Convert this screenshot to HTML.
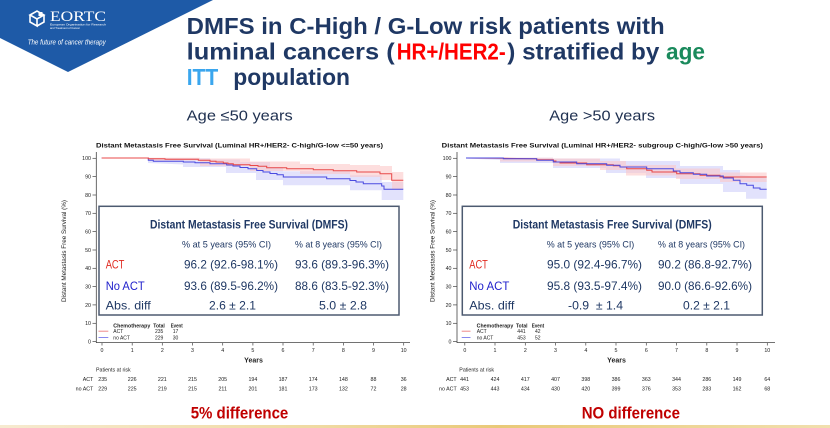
<!DOCTYPE html>
<html><head><meta charset="utf-8"><style>
html,body{margin:0;padding:0;background:#fff;}
svg{display:block;}
text{font-family:"Liberation Sans",Arial,sans-serif;}
</style></head><body>
<svg width="830" height="428" viewBox="0 0 830 428" xmlns="http://www.w3.org/2000/svg">
<defs>
<linearGradient id="gold" x1="0" x2="1" y1="0" y2="0">
<stop offset="0" stop-color="#f6ead0"/><stop offset="0.4" stop-color="#efd9a0"/><stop offset="0.6" stop-color="#e9c978"/><stop offset="1" stop-color="#f1dfae"/>
</linearGradient>
</defs>
<rect width="830" height="428" fill="#fff"/>
<!-- banner -->
<polygon points="0,0 213,0 68,72 0,38" fill="#1e5aa7"/>
<!-- cube icon -->
<g fill="none" stroke="#fff" stroke-width="1.6">
<path d="M30,15 L37,11 L44,15 L37,19 Z"/>
<path d="M30,15 L30,22 L37,26 L37,19"/>
<path d="M44,15 L44,22 L37,26"/>
</g>
<rect x="38.5" y="12" width="4" height="4" fill="#fff"/>
<text x="50" y="21" font-family="Liberation Serif,serif" font-size="14.5" fill="#fff" textLength="56" lengthAdjust="spacingAndGlyphs" style="font-family:'Liberation Serif',serif">EORTC</text>
<text x="50" y="25.5" font-size="3" fill="#fff" textLength="56" lengthAdjust="spacingAndGlyphs">European Organisation for Research</text>
<text x="50" y="29" font-size="3" fill="#fff" textLength="30" lengthAdjust="spacingAndGlyphs">and Treatment of Cancer</text>
<text x="27.7" y="44.5" font-size="7.5" font-style="italic" fill="#fff" textLength="78" lengthAdjust="spacingAndGlyphs">The future of cancer therapy</text>

<!-- Title -->
<g font-weight="bold" font-size="23">
<text x="186.7" y="34" fill="#1f3864" textLength="478" lengthAdjust="spacingAndGlyphs">DMFS in C-High / G-Low risk patients with</text>
<text x="186.7" y="59.5" fill="#1f3864" textLength="208" lengthAdjust="spacingAndGlyphs">luminal cancers (</text>
<text x="396.7" y="59.5" fill="#ff0000" textLength="109" lengthAdjust="spacingAndGlyphs">HR+/HER2-</text>
<text x="507.3" y="59.5" fill="#1f3864" textLength="152" lengthAdjust="spacingAndGlyphs">) stratified by</text>
<text x="666" y="59.5" fill="#1a8a5c" textLength="39" lengthAdjust="spacingAndGlyphs">age</text>
<text x="186.7" y="85" fill="#3aa6ee" textLength="31.6" lengthAdjust="spacingAndGlyphs">ITT</text>
<text x="233.3" y="85" fill="#1f3864" textLength="116.7" lengthAdjust="spacingAndGlyphs">population</text>
</g>
<text x="186.7" y="120.7" font-size="15" fill="#1f3050" textLength="106" lengthAdjust="spacingAndGlyphs">Age ≤50 years</text>
<text x="549.3" y="120.7" font-size="15" fill="#1f3050" textLength="105.7" lengthAdjust="spacingAndGlyphs">Age &gt;50 years</text>

<!-- ================= LEFT CHART ================= -->
<text x="96" y="147.5" font-size="6.8" font-weight="bold" fill="#111" textLength="287" lengthAdjust="spacingAndGlyphs">Distant Metastasis Free Survival (Luminal HR+/HER2- C-high/G-low &lt;=50 years)</text>
<!-- bands -->
<polygon fill="#d8d8fb" fill-opacity="0.75" points="148,158 148,158.3 210,158.3 210,159.5 240,159.5 240,162 270,162 270,167 283,167 283,171.3 350,171.3 350,175.3 381.7,175.3 381.7,182 403.3,182 403.3,200 381.7,200 381.7,190.3 350,190.3 350,185.3 283,185.3 283,180 256,180 256,173 226,173 226,167 183,167 183,164.5 148,163"/>
<polygon fill="#fbc8c8" fill-opacity="0.6" points="148,158 148,157.8 200,157.8 200,158.5 250,158.5 250,161.5 300,161.5 300,164 350,164 350,165 380,165 380,166 392,166 392,172 403.3,172 403.3,189 392,189 392,180 380,180 380,177 350,177 350,174 300,174 300,171 250,171 250,166 200,166 200,160.5 148,160.5"/>
<!-- curves -->
<polyline fill="none" stroke="#4a4ae0" stroke-width="1" points="101.7,158 148.3,158 148.3,160.3 153.3,160.3 153.3,161.3 183.3,161.3 183.3,162 195,162 195,162.7 210,162.7 210,163.7 226.7,163.7 226.7,165 233,165 233,166 240,166 240,167.5 248,167.5 248,168.7 256.7,168.7 256.7,170.5 263,170.5 263,172 270,172 270,173.5 277,173.5 277,174.7 283.3,174.7 283.3,177 326.7,177 326.7,178.7 350,178.7 350,180.5 356,180.5 356,182 363.3,182 363.3,183.7 381.7,183.7 381.7,186 384,186 384,189.3 403.3,189.3"/>
<polyline fill="none" stroke="#e84848" stroke-width="1" points="101.7,158 148.3,158 148.3,158.7 165,158.7 165,159.3 198.3,159.3 198.3,160.3 210,160.3 210,161.2 216,161.2 216,162 223.3,162 223.3,163 228,163 228,163.7 233.3,163.7 233.3,164.7 250,164.7 250,165.5 258,165.5 258,166.3 266.7,166.3 266.7,167.7 286.7,167.7 286.7,168.7 313.3,168.7 313.3,169.7 333.3,169.7 333.3,170.7 356.7,170.7 356.7,172 380,172 380,173.7 391.7,173.7 391.7,180.3 403.3,180.3"/>
<!-- axes -->
<g stroke="#444" stroke-width="0.8" fill="none">
<line x1="96.3" y1="152" x2="96.3" y2="342.6"/>
<line x1="96" y1="342.6" x2="410" y2="342.6"/>
</g>
<g stroke="#444" stroke-width="0.7">
<line x1="92.5" y1="158.3" x2="96.3" y2="158.3"/><line x1="92.5" y1="176.6" x2="96.3" y2="176.6"/><line x1="92.5" y1="195" x2="96.3" y2="195"/><line x1="92.5" y1="213.3" x2="96.3" y2="213.3"/><line x1="92.5" y1="231.6" x2="96.3" y2="231.6"/><line x1="92.5" y1="250" x2="96.3" y2="250"/><line x1="92.5" y1="268.3" x2="96.3" y2="268.3"/><line x1="92.5" y1="286.6" x2="96.3" y2="286.6"/><line x1="92.5" y1="304.9" x2="96.3" y2="304.9"/><line x1="92.5" y1="323.3" x2="96.3" y2="323.3"/><line x1="92.5" y1="341.6" x2="96.3" y2="341.6"/>
<line x1="102" y1="342.6" x2="102" y2="345.5"/><line x1="132.2" y1="342.6" x2="132.2" y2="345.5"/><line x1="162.3" y1="342.6" x2="162.3" y2="345.5"/><line x1="192.5" y1="342.6" x2="192.5" y2="345.5"/><line x1="222.7" y1="342.6" x2="222.7" y2="345.5"/><line x1="252.9" y1="342.6" x2="252.9" y2="345.5"/><line x1="283" y1="342.6" x2="283" y2="345.5"/><line x1="313.2" y1="342.6" x2="313.2" y2="345.5"/><line x1="343.4" y1="342.6" x2="343.4" y2="345.5"/><line x1="373.5" y1="342.6" x2="373.5" y2="345.5"/><line x1="403.7" y1="342.6" x2="403.7" y2="345.5"/>
</g>
<g font-size="5.3" fill="#222" text-anchor="end">
<text x="91" y="160.2">100</text><text x="91" y="178.5">90</text><text x="91" y="196.9">80</text><text x="91" y="215.2">70</text><text x="91" y="233.5">60</text><text x="91" y="251.9">50</text><text x="91" y="270.2">40</text><text x="91" y="288.5">30</text><text x="91" y="306.8">20</text><text x="91" y="325.2">10</text><text x="91" y="343.5">0</text>
</g>
<g font-size="5.3" fill="#222" text-anchor="middle">
<text x="102" y="352">0</text><text x="132.2" y="352">1</text><text x="162.3" y="352">2</text><text x="192.5" y="352">3</text><text x="222.7" y="352">4</text><text x="252.9" y="352">5</text><text x="283" y="352">6</text><text x="313.2" y="352">7</text><text x="343.4" y="352">8</text><text x="373.5" y="352">9</text><text x="403.7" y="352">10</text>
</g>
<text x="253.5" y="362.5" font-size="7" font-weight="bold" fill="#222" text-anchor="middle">Years</text>
<text transform="translate(66,251) rotate(-90)" font-size="6.5" fill="#222" text-anchor="middle" textLength="102" lengthAdjust="spacingAndGlyphs">Distant Metastasis Free Survival (%)</text>
<!-- legend -->
<line x1="98.5" y1="331.2" x2="108.3" y2="331.2" stroke="#e88" stroke-width="1"/>
<line x1="98.5" y1="337.5" x2="108.3" y2="337.5" stroke="#88e" stroke-width="1"/>
<g font-size="5" fill="#222">
<text x="113.3" y="327.5" font-weight="bold" textLength="37" lengthAdjust="spacingAndGlyphs">Chemotherapy</text>
<text x="153.3" y="327.5" font-weight="bold" textLength="11.5" lengthAdjust="spacingAndGlyphs">Total</text>
<text x="170.7" y="327.5" font-weight="bold" textLength="12" lengthAdjust="spacingAndGlyphs">Event</text>
<text x="113.3" y="333">ACT</text><text x="155" y="333">235</text><text x="172.7" y="333">17</text>
<text x="113.3" y="339.3">no ACT</text><text x="155" y="339.3">229</text><text x="172.7" y="339.3">30</text>
</g>
<!-- at risk -->
<g font-size="5.3" fill="#222">
<text x="96" y="371.3" textLength="34.7" lengthAdjust="spacingAndGlyphs">Patients at risk</text>
<text x="93.3" y="381" text-anchor="end">ACT</text>
<text x="93.3" y="390.7" text-anchor="end">no ACT</text>
</g>
<g font-size="5.3" fill="#222" text-anchor="middle">
<text x="102.7" y="381">235</text><text x="132.2" y="381">226</text><text x="162.3" y="381">221</text><text x="192.5" y="381">215</text><text x="222.7" y="381">205</text><text x="252.9" y="381">194</text><text x="283" y="381">187</text><text x="313.2" y="381">174</text><text x="343.4" y="381">148</text><text x="373.5" y="381">88</text><text x="403.7" y="381">36</text>
<text x="102.7" y="390.7">229</text><text x="132.2" y="390.7">225</text><text x="162.3" y="390.7">219</text><text x="192.5" y="390.7">215</text><text x="222.7" y="390.7">211</text><text x="252.9" y="390.7">201</text><text x="283" y="390.7">181</text><text x="313.2" y="390.7">173</text><text x="343.4" y="390.7">132</text><text x="373.5" y="390.7">72</text><text x="403.7" y="390.7">28</text>
</g>
<!-- table box -->
<rect x="99" y="206.3" width="300" height="108.7" fill="#fff" stroke="#4d5a70" stroke-width="1.5"/>
<text x="150" y="228.5" font-size="12" font-weight="bold" fill="#1f3864" textLength="198" lengthAdjust="spacingAndGlyphs">Distant Metastasis Free Survival (DMFS)</text>
<g font-size="9.5" fill="#1f3864">
<text x="182" y="247.6" textLength="89" lengthAdjust="spacingAndGlyphs">% at 5 years (95% CI)</text>
<text x="295" y="247.6" textLength="87" lengthAdjust="spacingAndGlyphs">% at 8 years (95% CI)</text>
</g>
<g font-size="12">
<text x="105.7" y="268.3" fill="#e02a20" textLength="18.7" lengthAdjust="spacingAndGlyphs">ACT</text>
<text x="184" y="268.3" fill="#1f3864" textLength="94" lengthAdjust="spacingAndGlyphs">96.2 (92.6-98.1%)</text>
<text x="295" y="268.3" fill="#1f3864" textLength="94" lengthAdjust="spacingAndGlyphs">93.6 (89.3-96.3%)</text>
<text x="105.7" y="290" fill="#2222cc" textLength="39" lengthAdjust="spacingAndGlyphs">No ACT</text>
<text x="184" y="290" fill="#1f3864" textLength="94" lengthAdjust="spacingAndGlyphs">93.6 (89.5-96.2%)</text>
<text x="295" y="290" fill="#1f3864" textLength="94" lengthAdjust="spacingAndGlyphs">88.6 (83.5-92.3%)</text>
<text x="105.7" y="309.3" fill="#1f3864" textLength="45" lengthAdjust="spacingAndGlyphs">Abs. diff</text>
<text x="209" y="309.3" fill="#1f3864" textLength="47" lengthAdjust="spacingAndGlyphs">2.6 ± 2.1</text>
<text x="319" y="309.3" fill="#1f3864" textLength="48" lengthAdjust="spacingAndGlyphs">5.0 ± 2.8</text>
</g>
<text x="190.7" y="418.3" font-size="16.5" font-weight="bold" fill="#c00000" textLength="97.6" lengthAdjust="spacingAndGlyphs">5% difference</text>

<!-- ================= RIGHT CHART ================= -->
<text x="441.7" y="147.5" font-size="6.8" font-weight="bold" fill="#111" textLength="321.3" lengthAdjust="spacingAndGlyphs">Distant Metastasis Free Survival (Luminal HR+/HER2- subgroup C-high/G-low &gt;50 years)</text>
<polygon fill="#d8d8fb" fill-opacity="0.75" points="466,157.8 553,157.8 553,158.5 620,158.5 620,161 680,161 680,166 723,166 723,170 740,170 740,175 766.7,178 766.7,198.7 746,198.7 746,192 723,192 723,184 680,184 680,178 646,178 646,173 606,173 606,168 553,168 553,163 500,163 500,160 466,158.5"/>
<polygon fill="#fbc8c8" fill-opacity="0.6" points="466,157.8 553,157.8 553,158.5 600,158.5 600,161 626,161 626,165 676,165 676,168.5 720,168.5 720,172.5 766.7,172.5 766.7,182 720,182 720,179 676,179 676,175.5 626,175.5 626,170 600,170 600,166 553,166 553,161.5 500,161.5 500,159 466,158.5"/>
<polyline fill="none" stroke="#e84848" stroke-width="1" points="466,158 503.3,158.3 536.7,158.7 536.7,159.7 553.3,159.7 553.3,161 556,161 556,162 560,162 560,163 586.7,163 586.7,164.7 613.3,164.7 613.3,165.8 620,165.8 620,167 626.7,167 626.7,168.7 646.7,168.7 646.7,170.3 652,170.3 652,172 676.7,172 676.7,173.7 700,173.7 700,175.3 720,175.3 720,177 766.7,177"/>
<polyline fill="none" stroke="#4a4ae0" stroke-width="1" points="466,158 503.3,158 503.3,158.7 536.7,158.7 536.7,160.3 553.3,160.3 553.3,162 576.7,162 576.7,163.7 606.7,163.7 606.7,165.3 620,165.3 620,167 646.7,167 646.7,168.7 673.3,168.7 673.3,171 680,171 680,172.7 693.3,172.7 693.3,174.3 706.7,174.3 706.7,176 723.3,176 723.3,178 733.3,178 733.3,180.3 740,180.3 740,183.7 746.7,183.7 746.7,185.3 753.3,185.3 753.3,188 760,188 760,189.3 766.7,189.3"/>
<g stroke="#444" stroke-width="0.8" fill="none">
<line x1="457" y1="152" x2="457" y2="342.6"/>
<line x1="456.7" y1="342.6" x2="775" y2="342.6"/>
</g>
<g stroke="#444" stroke-width="0.7">
<line x1="453" y1="158.3" x2="457" y2="158.3"/><line x1="453" y1="176.6" x2="457" y2="176.6"/><line x1="453" y1="195" x2="457" y2="195"/><line x1="453" y1="213.3" x2="457" y2="213.3"/><line x1="453" y1="231.6" x2="457" y2="231.6"/><line x1="453" y1="250" x2="457" y2="250"/><line x1="453" y1="268.3" x2="457" y2="268.3"/><line x1="453" y1="286.6" x2="457" y2="286.6"/><line x1="453" y1="304.9" x2="457" y2="304.9"/><line x1="453" y1="323.3" x2="457" y2="323.3"/><line x1="453" y1="341.6" x2="457" y2="341.6"/>
<line x1="464.8" y1="342.6" x2="464.8" y2="345.5"/><line x1="495" y1="342.6" x2="495" y2="345.5"/><line x1="525.3" y1="342.6" x2="525.3" y2="345.5"/><line x1="555.5" y1="342.6" x2="555.5" y2="345.5"/><line x1="585.8" y1="342.6" x2="585.8" y2="345.5"/><line x1="616" y1="342.6" x2="616" y2="345.5"/><line x1="646.3" y1="342.6" x2="646.3" y2="345.5"/><line x1="676.5" y1="342.6" x2="676.5" y2="345.5"/><line x1="706.8" y1="342.6" x2="706.8" y2="345.5"/><line x1="737" y1="342.6" x2="737" y2="345.5"/><line x1="767.3" y1="342.6" x2="767.3" y2="345.5"/>
</g>
<g font-size="5.3" fill="#222" text-anchor="end">
<text x="451.5" y="160.2">100</text><text x="451.5" y="178.5">90</text><text x="451.5" y="196.9">80</text><text x="451.5" y="215.2">70</text><text x="451.5" y="233.5">60</text><text x="451.5" y="251.9">50</text><text x="451.5" y="270.2">40</text><text x="451.5" y="288.5">30</text><text x="451.5" y="306.8">20</text><text x="451.5" y="325.2">10</text><text x="451.5" y="343.5">0</text>
</g>
<g font-size="5.3" fill="#222" text-anchor="middle">
<text x="464.8" y="352">0</text><text x="495" y="352">1</text><text x="525.3" y="352">2</text><text x="555.5" y="352">3</text><text x="585.8" y="352">4</text><text x="616" y="352">5</text><text x="646.3" y="352">6</text><text x="676.5" y="352">7</text><text x="706.8" y="352">8</text><text x="737" y="352">9</text><text x="767.3" y="352">10</text>
</g>
<text x="616.5" y="362.5" font-size="7" font-weight="bold" fill="#222" text-anchor="middle">Years</text>
<text transform="translate(434.5,251) rotate(-90)" font-size="6.5" fill="#222" text-anchor="middle" textLength="102" lengthAdjust="spacingAndGlyphs">Distant Metastasis Free Survival (%)</text>
<line x1="461.7" y1="331.2" x2="470.5" y2="331.2" stroke="#e88" stroke-width="1"/>
<line x1="461.7" y1="337.5" x2="470.5" y2="337.5" stroke="#88e" stroke-width="1"/>
<g font-size="5" fill="#222">
<text x="476.7" y="327.5" font-weight="bold" textLength="36.6" lengthAdjust="spacingAndGlyphs">Chemotherapy</text>
<text x="516" y="327.5" font-weight="bold" textLength="11.5" lengthAdjust="spacingAndGlyphs">Total</text>
<text x="531.7" y="327.5" font-weight="bold" textLength="12.5" lengthAdjust="spacingAndGlyphs">Event</text>
<text x="476.7" y="333">ACT</text><text x="517.3" y="333">441</text><text x="535" y="333">42</text>
<text x="476.7" y="339.3">no ACT</text><text x="517.3" y="339.3">453</text><text x="535" y="339.3">52</text>
</g>
<g font-size="5.3" fill="#222">
<text x="459.3" y="371.3" textLength="34.7" lengthAdjust="spacingAndGlyphs">Patients at risk</text>
<text x="456.7" y="381" text-anchor="end">ACT</text>
<text x="456.7" y="390.7" text-anchor="end">no ACT</text>
</g>
<g font-size="5.3" fill="#222" text-anchor="middle">
<text x="464.5" y="381">441</text><text x="495" y="381">424</text><text x="525.3" y="381">417</text><text x="555.5" y="381">407</text><text x="585.8" y="381">398</text><text x="616" y="381">386</text><text x="646.3" y="381">363</text><text x="676.5" y="381">344</text><text x="706.8" y="381">286</text><text x="737" y="381">149</text><text x="767.3" y="381">64</text>
<text x="464.5" y="390.7">453</text><text x="495" y="390.7">443</text><text x="525.3" y="390.7">434</text><text x="555.5" y="390.7">430</text><text x="585.8" y="390.7">420</text><text x="616" y="390.7">399</text><text x="646.3" y="390.7">376</text><text x="676.5" y="390.7">353</text><text x="706.8" y="390.7">283</text><text x="737" y="390.7">162</text><text x="767.3" y="390.7">68</text>
</g>
<rect x="462.3" y="206.3" width="300" height="108.7" fill="#fff" stroke="#4d5a70" stroke-width="1.5"/>
<text x="512.7" y="228.5" font-size="12" font-weight="bold" fill="#1f3864" textLength="199" lengthAdjust="spacingAndGlyphs">Distant Metastasis Free Survival (DMFS)</text>
<g font-size="9.5" fill="#1f3864">
<text x="546.7" y="247.6" textLength="87.6" lengthAdjust="spacingAndGlyphs">% at 5 years (95% CI)</text>
<text x="658" y="247.6" textLength="87" lengthAdjust="spacingAndGlyphs">% at 8 years (95% CI)</text>
</g>
<g font-size="12">
<text x="469.3" y="268.3" fill="#e02a20" textLength="18.5" lengthAdjust="spacingAndGlyphs">ACT</text>
<text x="547" y="268.3" fill="#1f3864" textLength="95" lengthAdjust="spacingAndGlyphs">95.0 (92.4-96.7%)</text>
<text x="658" y="268.3" fill="#1f3864" textLength="94" lengthAdjust="spacingAndGlyphs">90.2 (86.8-92.7%)</text>
<text x="469.3" y="290" fill="#2222cc" textLength="40" lengthAdjust="spacingAndGlyphs">No ACT</text>
<text x="547" y="290" fill="#1f3864" textLength="95" lengthAdjust="spacingAndGlyphs">95.8 (93.5-97.4%)</text>
<text x="658" y="290" fill="#1f3864" textLength="94" lengthAdjust="spacingAndGlyphs">90.0 (86.6-92.6%)</text>
<text x="469.3" y="309.3" fill="#1f3864" textLength="45" lengthAdjust="spacingAndGlyphs">Abs. diff</text>
<text x="568" y="309.3" fill="#1f3864" textLength="55" lengthAdjust="spacingAndGlyphs" xml:space="preserve">-0.9  ± 1.4</text>
<text x="683" y="309.3" fill="#1f3864" textLength="47" lengthAdjust="spacingAndGlyphs">0.2 ± 2.1</text>
</g>
<text x="581.7" y="418.3" font-size="16.5" font-weight="bold" fill="#c00000" textLength="98.3" lengthAdjust="spacingAndGlyphs">NO difference</text>

<!-- bottom gold line -->
<rect x="0" y="425" width="830" height="3" fill="url(#gold)"/>
</svg>
</body></html>
